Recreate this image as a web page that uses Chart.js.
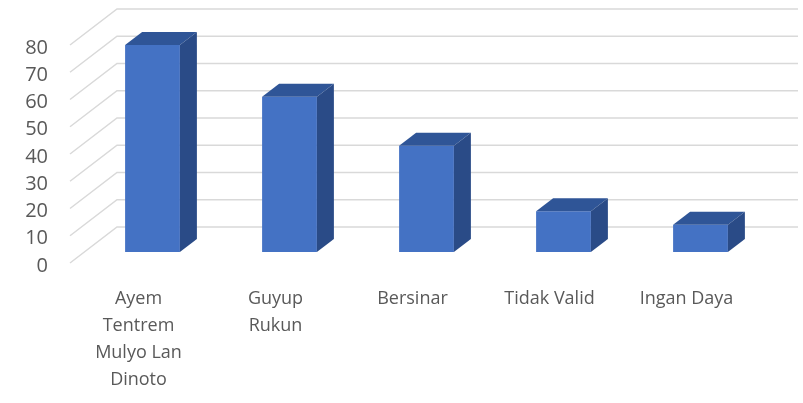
<!DOCTYPE html>
<html>
<head>
<meta charset="utf-8">
<script src="https://cdn.jsdelivr.net/npm/chart.js@4.4.1/dist/chart.umd.min.js"></script>
<style>
  html, body { margin: 0; padding: 0; background: #fff; }
  #wrap { width: 803px; height: 403px; }
</style>
</head>
<body>
<div id="wrap"><canvas id="chart"></canvas></div>
<script>
const kategori = [["Ayem", "Tentrem", "Mulyo Lan", "Dinoto"], ["Guyup", "Rukun"], "Bersinar", "Tidak Valid", "Ingan Daya"];
const suara = [76, 57, 39, 15, 10];
const sumbuY = { min: 0, max: 80, step: 10 };

// offset miring: dinding belakang, posisi kolom, dan tebal kolom
const dinding = { dx: 47, dy: 36 };
const geser = { dx: 14, dy: 11 };
const tebal = { dx: 17, dy: 13 };

const kolom3d = {
  id: "kolom3d",
  beforeDatasetsDraw: function (chart) {
    const { ctx, chartArea, scales } = chart;
    ctx.save();
    ctx.strokeStyle = "#d9d9d9";
    ctx.lineWidth = 1.5;
    scales.y.ticks.forEach((t) => {
      const y = scales.y.getPixelForValue(t.value);
      ctx.beginPath();
      ctx.moveTo(chartArea.left, y);
      ctx.lineTo(chartArea.left + dinding.dx, y - dinding.dy);
      ctx.lineTo(chart.width - 5, y - dinding.dy);
      ctx.stroke();
    });
    ctx.restore();
  },
  beforeDatasetDraw: function (chart) {
    chart.ctx.save();
    chart.ctx.translate(geser.dx, -geser.dy);
  },
  afterDatasetDraw: function (chart, args) {
    const ctx = chart.ctx;
    chart.getDatasetMeta(args.index).data.forEach((bar) => {
      const { x, y, base, width } = bar.getProps(["x", "y", "base", "width"], true);
      const l = x - width / 2;
      const r = x + width / 2;
      // sisi atas
      ctx.fillStyle = "#2f5597";
      ctx.beginPath();
      ctx.moveTo(l, y);
      ctx.lineTo(l + tebal.dx, y - tebal.dy);
      ctx.lineTo(r + tebal.dx, y - tebal.dy);
      ctx.lineTo(r, y);
      ctx.closePath();
      ctx.fill();
      // sisi kanan
      ctx.fillStyle = "#2a4b87";
      ctx.beginPath();
      ctx.moveTo(r, y);
      ctx.lineTo(r + tebal.dx, y - tebal.dy);
      ctx.lineTo(r + tebal.dx, base - tebal.dy);
      ctx.lineTo(r, base);
      ctx.closePath();
      ctx.fill();
    });
    ctx.restore();
  },
};

new Chart(document.getElementById("chart"), {
  type: "bar",
  data: {
    labels: kategori,
    datasets: [
      {
        data: suara,
        backgroundColor: "#4472c4",
        borderWidth: 0,
        categoryPercentage: 1,
        barPercentage: 0.4,
      },
    ],
  },
  options: {
    responsive: true,
    maintainAspectRatio: false,
    animation: false,
    layout: { padding: { top: 45, right: 48, left: 0, bottom: 0 } },
    plugins: {
      legend: { display: false },
      tooltip: { enabled: false },
    },
    scales: {
      x: {
        grid: { display: false, drawTicks: false },
        border: { display: false },
        ticks: {
          color: "#595959",
          font: { family: "'Open Sans', sans-serif", size: 18, lineHeight: 1.5 },
          padding: 22,
          maxRotation: 0,
          autoSkip: false,
        },
        afterFit: function (scale) {
          scale.height = 140;
        },
      },
      y: {
        min: sumbuY.min,
        max: sumbuY.max,
        grid: { display: false, drawTicks: false },
        border: { display: false },
        ticks: {
          stepSize: sumbuY.step,
          color: "#595959",
          font: { family: "'Open Sans', sans-serif", size: 20 },
          padding: 22,
          labelOffset: 3,
        },
        afterFit: function (scale) {
          scale.width = 70;
        },
      },
    },
  },
  plugins: [kolom3d],
});
</script>
</body>
</html>
